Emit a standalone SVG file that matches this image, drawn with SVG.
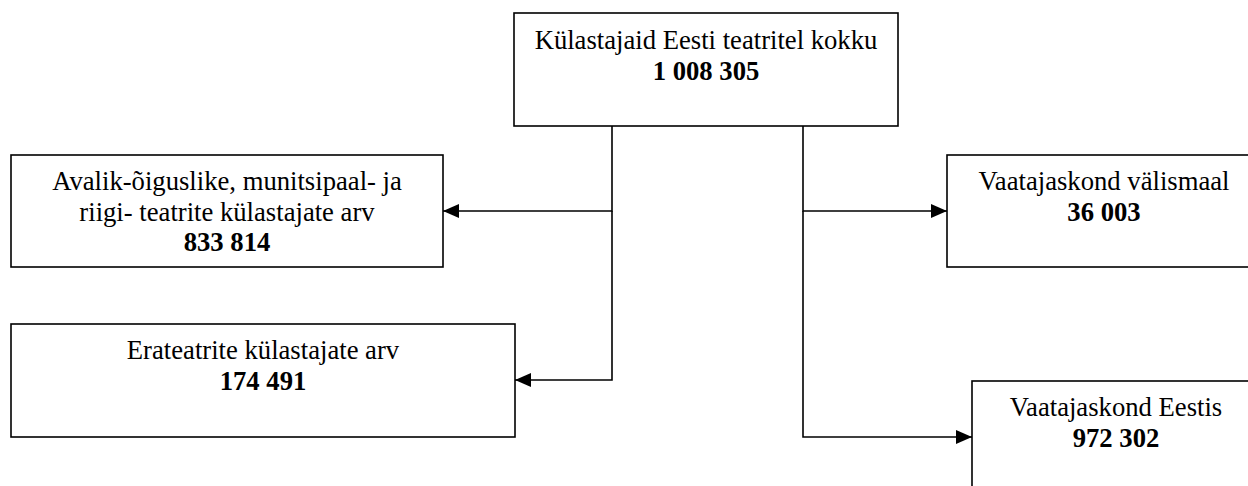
<svg xmlns="http://www.w3.org/2000/svg" width="1248" height="486" viewBox="0 0 1248 486">
<style>
  .box { fill: #ffffff; stroke: #000000; stroke-width: 1.6; }
  .t { font-family: "Liberation Serif", "Times New Roman", serif; font-size: 26.67px; fill: #000000; text-anchor: middle; }
  .b { font-weight: bold; }
  .conn { fill: none; stroke: #000000; stroke-width: 1.6; }
</style>
<defs>
  <marker id="arrow" viewBox="0 0 16 14" refX="16" refY="7" markerWidth="16" markerHeight="14" markerUnits="userSpaceOnUse" orient="auto">
    <path d="M0,0 L16,7 L0,14 Z" fill="#000000"/>
  </marker>
</defs>
<rect width="1248" height="486" fill="#ffffff"/>
<g id="connectors">
  <path class="conn" d="M612,126 V211 H443" marker-end="url(#arrow)"/>
  <path class="conn" d="M612,211 V380 H515" marker-end="url(#arrow)"/>
  <path class="conn" d="M803,126 V211 H947" marker-end="url(#arrow)"/>
  <path class="conn" d="M803,211 V437 H972" marker-end="url(#arrow)"/>
</g>
<g id="node-total">
  <rect class="box" x="514" y="13" width="384" height="113"/>
  <text class="t" x="706" y="49">Külastajaid Eesti teatritel kokku</text>
  <text class="t b" x="706" y="80">1 008 305</text>
</g>
<g id="node-public">
  <rect class="box" x="11" y="155" width="432" height="112"/>
  <text class="t" x="227" y="190">Avalik-õiguslike, munitsipaal- ja</text>
  <text class="t" x="227" y="221">riigi- teatrite külastajate arv</text>
  <text class="t b" x="227" y="251">833 814</text>
</g>
<g id="node-private">
  <rect class="box" x="11" y="324" width="504" height="113"/>
  <text class="t" x="263" y="359">Erateatrite külastajate arv</text>
  <text class="t b" x="263" y="390">174 491</text>
</g>
<g id="node-abroad">
  <rect class="box" x="947" y="155" width="314" height="112"/>
  <text class="t" x="1104" y="190">Vaatajaskond välismaal</text>
  <text class="t b" x="1104" y="221">36 003</text>
</g>
<g id="node-estonia">
  <rect class="box" x="972" y="381" width="288" height="113"/>
  <text class="t" x="1116" y="416">Vaatajaskond Eestis</text>
  <text class="t b" x="1116" y="447">972 302</text>
</g>
</svg>
